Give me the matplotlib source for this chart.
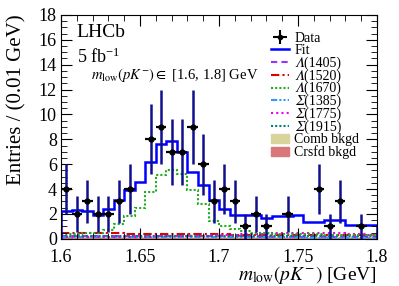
import numpy as np
import matplotlib
matplotlib.use("Agg")
import matplotlib.pyplot as plt
from matplotlib.lines import Line2D
from matplotlib.patches import Patch
from matplotlib.ticker import MultipleLocator

plt.rcParams['font.family'] = ['Liberation Serif', 'DejaVu Serif', 'STIXGeneral', 'DejaVu Sans']
plt.rcParams['mathtext.fontset'] = 'stix'

# 30 bins between 1.6 and 1.8 GeV
edges = np.linspace(1.6, 1.8, 31)
centres = 0.5 * (edges[1:] + edges[:-1])

# data counts (nan = empty bin, not drawn)
data = [4, 2, 3, 2, 2, 3, 4, np.nan, 8, 9,
        7, 7, 9, 6, 3, 4, 3, 1, 2, 1,
        np.nan, 2, np.nan, np.nan, 4, 1, 3, np.nan, 1, np.nan]

fit = [2.2, 2.3, 2.25, 1.9, 2.4, 3.1, 3.9, 4.6, 6.2, 7.6,
       7.85, 7.0, 5.4, 4.35, 3.1, 2.4, 1.9, 1.9, 1.9, 1.64,
       1.8, 1.8, 1.93, 1.37, 1.37, 1.53, 1.53, 1.13, 1.13, 1.13]

lam1670 = [0.35, 0.4, 0.45, 0.5, 0.7, 1.2, 1.85, 2.5, 3.8, 5.1,
           5.5, 5.2, 3.9, 2.8, 1.45, 1.05, 0.8, 0.6, 0.5, 0.45,
           0.4, 0.4, 0.38, 0.36, 0.35, 0.34, 0.33, 0.32, 0.31, 0.3]
lam1520 = [0.5, 0.48, 0.46, 0.45, 0.44, 0.43, 0.42, 0.41, 0.4, 0.4,
           0.39, 0.38, 0.37, 0.36, 0.35, 0.35, 0.34, 0.34, 0.33, 0.33,
           0.32, 0.32, 0.31, 0.31, 0.3, 0.3, 0.3, 0.29, 0.29, 0.28]
lam1405 = [0.25, 0.25, 0.24, 0.24, 0.23, 0.23, 0.22, 0.22, 0.22, 0.21,
           0.21, 0.21, 0.2, 0.2, 0.2, 0.19, 0.19, 0.19, 0.18, 0.18,
           0.18, 0.17, 0.17, 0.17, 0.16, 0.16, 0.16, 0.15, 0.15, 0.15]
sig1385 = [0.15, 0.15, 0.15, 0.15, 0.14, 0.14, 0.14, 0.14, 0.13, 0.13,
           0.13, 0.13, 0.13, 0.12, 0.12, 0.12, 0.12, 0.12, 0.11, 0.11,
           0.11, 0.11, 0.11, 0.1, 0.1, 0.1, 0.1, 0.1, 0.1, 0.1]
sig1775 = [0.12, 0.12, 0.13, 0.13, 0.14, 0.15, 0.16, 0.17, 0.18, 0.19,
           0.2, 0.21, 0.23, 0.25, 0.27, 0.3, 0.32, 0.35, 0.38, 0.4,
           0.43, 0.46, 0.48, 0.5, 0.5, 0.48, 0.45, 0.4, 0.35, 0.3]
sig1915 = [0.2, 0.2, 0.2, 0.2, 0.2, 0.2, 0.21, 0.21, 0.21, 0.21,
           0.21, 0.22, 0.22, 0.22, 0.22, 0.22, 0.23, 0.23, 0.23, 0.23,
           0.24, 0.24, 0.24, 0.24, 0.25, 0.25, 0.25, 0.25, 0.25, 0.25]
comb = [0.15] * 30
crsfd = [0.08] * 30

labels = ['Data', 'Fit', '\U0001D6EC(1405)', '\U0001D6EC(1520)', '\U0001D6EC(1670)',
          '\U0001D6F4(1385)', '\U0001D6F4(1775)', '\U0001D6F4(1915)', 'Comb bkgd', 'Crsfd bkgd']

fig = plt.figure(figsize=(3.99, 2.86), dpi=100)
ax = fig.add_axes([0.153, 0.165, 0.792, 0.783])


def step(y, **kw):
    ax.stairs(np.asarray(y, float), edges, baseline=None, **kw)


# backgrounds as filled histograms
ax.stairs(comb, edges, fill=True, color='#d8d49c', lw=0)
ax.stairs(crsfd, edges, fill=True, color='#d87878', lw=0)

st = {
    'l1405': dict(color='#9933ff', ls=(0, (3, 2)), lw=1.5),
    'l1520': dict(color='#e00000', ls=(0, (4, 1.5, 1, 1.5)), lw=1.5),
    'l1670': dict(color='#22aa22', ls=(0, (1, 1)), lw=1.5),
    's1385': dict(color='#3399ff', ls=(0, (3, 1, 1, 1, 1, 1)), lw=1.5),
    's1775': dict(color='#ee00ee', ls=(0, (1, 1.5)), lw=1.5),
    's1915': dict(color='#007f7f', ls=(0, (1, 1)), lw=1.5),
}
step(lam1405, **st['l1405'])
step(lam1520, **st['l1520'])
step(sig1385, **st['s1385'])
step(sig1775, **st['s1775'])
step(sig1915, **st['s1915'])
step(lam1670, **st['l1670'])
ax.stairs(fit, edges, baseline=0, color='#0000ff', lw=1.8)

y = np.asarray(data, float)
yerr = np.sqrt(y)
half = 0.5 * (edges[1] - edges[0])
ax.errorbar(centres, y, yerr=yerr, fmt='none', ecolor='#10108f', elinewidth=1.8, capsize=0)
ax.errorbar(centres, y, xerr=half, fmt='o', color='k', ms=3.5, elinewidth=1.6, capsize=0)

ax.set_xlim(1.6, 1.8)
ax.set_ylim(0, 18)
ax.xaxis.set_minor_locator(MultipleLocator(0.01))
ax.yaxis.set_major_locator(MultipleLocator(2))
ax.yaxis.set_minor_locator(MultipleLocator(0.5))
ax.set_xticks([1.6, 1.65, 1.7, 1.75, 1.8])
ax.set_xticklabels(['1.6', '1.65', '1.7', '1.75', '1.8'])
ax.tick_params(which='both', direction='in', top=True, right=True, labelsize=13)
ax.tick_params(axis='x', pad=7)
ax.tick_params(axis='y', pad=3)
ax.tick_params(which='major', length=8)
ax.tick_params(which='minor', length=4)

ax.set_xlabel(r'$m_{\rm low}(pK^{-})$ [GeV]', fontsize=14, loc='right', labelpad=-1)
ax.set_ylabel('Entries / (0.01 GeV)', fontsize=15, loc='top', labelpad=9)

ax.text(0.05, 0.96, 'LHCb', transform=ax.transAxes, fontsize=14, va='top')
ax.text(0.05, 0.855, r'5 fb$^{\mathregular{-1}}$', transform=ax.transAxes, fontsize=13, va='top')
ax.text(0.095, 0.77, r'$m_{\rm low}(pK^{-}) \in$ [1.6, 1.8] GeV', transform=ax.transAxes,
        fontsize=10.5, va='top')

handles = [
    ax.errorbar([np.nan], [np.nan], xerr=1, yerr=1, fmt='o', color='k', ms=3, elinewidth=1.5),
    Line2D([], [], color='#0000ff', lw=1.8),
    Line2D([], [], **st['l1405']),
    Line2D([], [], **st['l1520']),
    Line2D([], [], **st['l1670']),
    Line2D([], [], **st['s1385']),
    Line2D([], [], **st['s1775']),
    Line2D([], [], **st['s1915']),
    Patch(color='#d8d49c'),
    Patch(color='#d87878'),
]
ax.legend(handles, labels, loc='upper left', bbox_to_anchor=(0.665, 0.925), frameon=False,
          fontsize=10, handlelength=1.3, handleheight=0.6, handletextpad=0.35,
          labelspacing=-0.05, borderpad=0, borderaxespad=0)

fig.savefig('out.png', dpi=100)
